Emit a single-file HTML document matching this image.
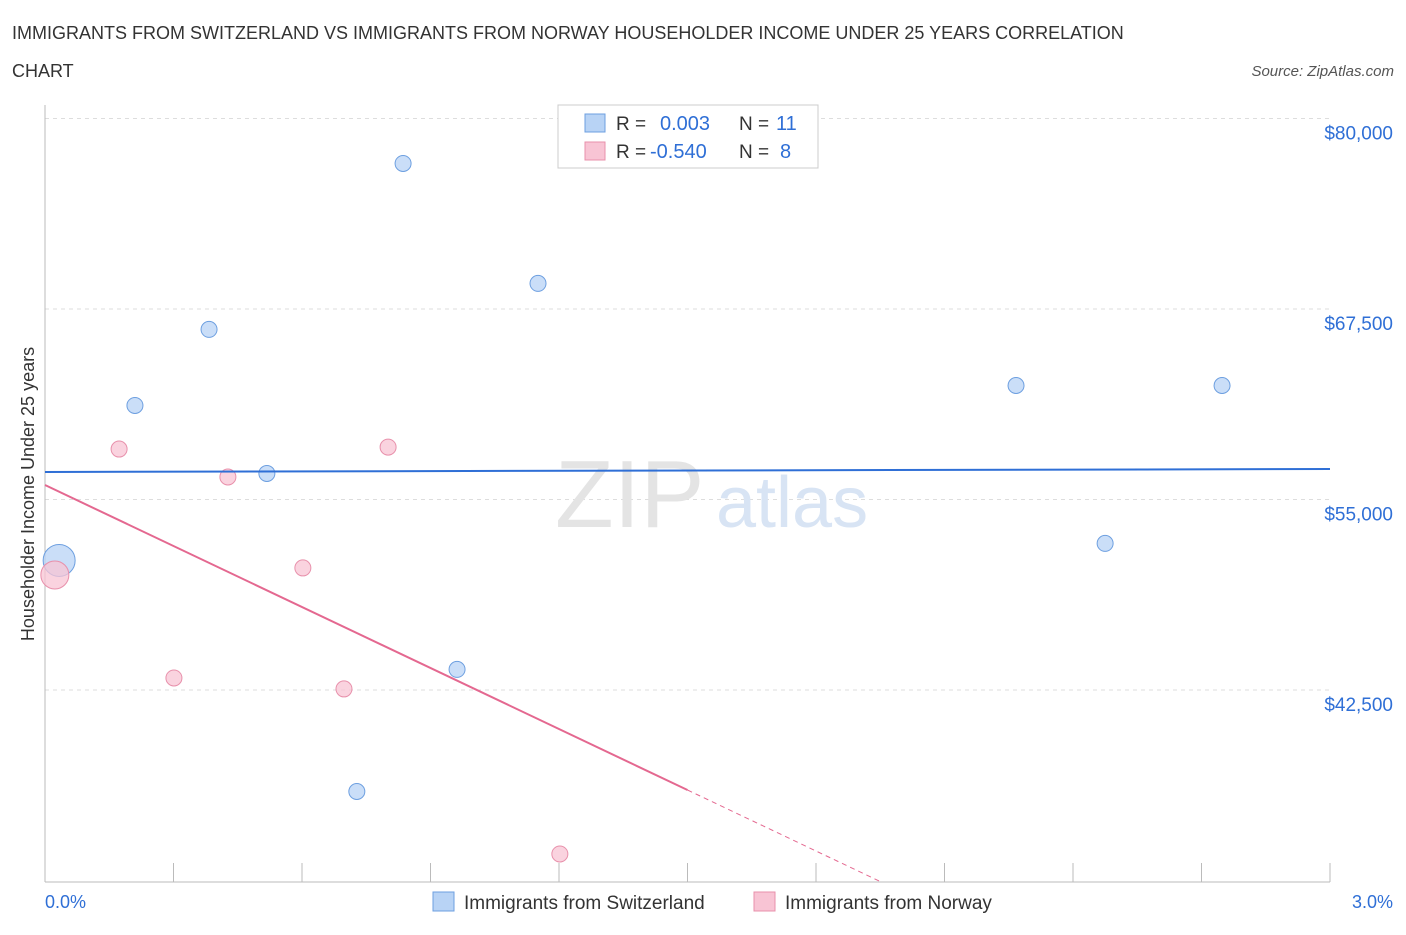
<!DOCTYPE html>
<html><head><meta charset="utf-8"><style>
body{margin:0;background:#fff;font-family:"Liberation Sans",sans-serif;}
svg text{font-family:"Liberation Sans",sans-serif;}
</style></head><body>
<svg width="1406" height="930" viewBox="0 0 1406 930">
<text x="12" y="39" font-size="18" fill="#333">IMMIGRANTS FROM SWITZERLAND VS IMMIGRANTS FROM NORWAY HOUSEHOLDER INCOME UNDER 25 YEARS CORRELATION</text>
<text x="12" y="77" font-size="18" fill="#333">CHART</text>
<text x="1394" y="76" font-size="15" fill="#555" font-style="italic" text-anchor="end">Source: ZipAtlas.com</text>
<g id="grid"></g>
<text x="555" y="527" font-size="96" fill="#e4e4e4" font-family="Liberation Serif">ZIP</text>
<text x="716" y="527" font-size="72" fill="#d8e4f4">atlas</text>
<g id="marks"></g>
<text transform="translate(34,494) rotate(-90)" font-size="18" fill="#333" text-anchor="middle">Householder Income Under 25 years</text>
<text x="45" y="908" font-size="18" fill="#2f6fd6">0.0%</text>
<text x="1393" y="908" font-size="18" fill="#2f6fd6" text-anchor="end">3.0%</text>
<g>
<rect x="558" y="105" width="260" height="63" fill="#fff" stroke="#ccc"/>
<rect x="585" y="114" width="20" height="18" fill="#b8d3f5" stroke="#6d9fe0"/>
<text x="616" y="130" font-size="19" fill="#333">R =</text><text x="660" y="130" font-size="20" fill="#2f6fd6">0.003</text>
<text x="739" y="130" font-size="19" fill="#333">N =</text><text x="776" y="130" font-size="20" fill="#2f6fd6">11</text>
<rect x="585" y="142" width="20" height="18" fill="#f8c4d4" stroke="#e890ab"/>
<text x="616" y="158" font-size="19" fill="#333">R =</text><text x="650" y="158" font-size="20" fill="#2f6fd6">-0.540</text>
<text x="739" y="158" font-size="19" fill="#333">N =</text><text x="780" y="158" font-size="20" fill="#2f6fd6">8</text>
</g>
<g>
<rect x="433" y="892" width="21" height="19" fill="#b8d3f5" stroke="#6d9fe0"/>
<text x="464" y="909" font-size="19" fill="#333">Immigrants from Switzerland</text>
<rect x="754" y="892" width="21" height="19" fill="#f8c4d4" stroke="#e890ab"/>
<text x="785" y="909" font-size="19" fill="#333">Immigrants from Norway</text>
</g>
</svg>
<script>
const yTicks=[42500,55000,67500,80000];
const yTickLabels=["$42,500","$55,000","$67,500","$80,000"];
const swissX=[0.836,1.151,0.383,0.210,0.518,0.033,2.267,2.748,2.475,0.962,0.728];
const swissY=[77050,69180,66160,61170,56710,51000,62480,62480,52120,43850,35840];
const swissR=[8,8,8,8,8,16,8,8,8,8,8];
const norX=[0.173,0.427,0.801,0.602,0.023,0.301,0.698,1.202];
const norY=[58310,56480,58440,50510,50050,43290,42570,31740];
const norR=[8,8,8,8,14,8,8,8];
const swissTrend=[56805,57000];
const norTrend=[55951,-13342];
const NS="http://www.w3.org/2000/svg";
const X=v=>45+v/3*1285;
const Y=v=>118.5+(80000-v)/12500*190.5;
const grid=document.getElementById('grid'),marks=document.getElementById('marks');
function mk(tag,at,parent){const e=document.createElementNS(NS,tag);for(const k in at)e.setAttribute(k,at[k]);parent.appendChild(e);return e;}
yTicks.forEach((t,i)=>{
 const l=mk('line',{x1:45,x2:1330,y1:Y(t),y2:Y(t),stroke:'#ddd','stroke-dasharray':'4,4'},grid);
 
 
 const tx=mk('text',{x:1393,y:Y(t)+21,'font-size':19,fill:'#2f6fd6','text-anchor':'end'},grid);
 tx.textContent=yTickLabels[i];
 
 
});
const ax=mk('line',{x1:45,x2:1330,y1:882,y2:882,stroke:'#bbb'},grid);


const ay=mk('line',{x1:45,x2:45,y1:105,y2:882,stroke:'#bbb'},grid);


for(let i=0;i<=10;i++){
 const t=mk('line',{x1:X(i*0.3),x2:X(i*0.3),y1:863,y2:882,stroke:'#bbb'},grid);
 
 
}
swissX.forEach((v,i)=>{
 const c=mk('circle',{cx:X(v),cy:Y(swissY[i]),r:swissR[i],fill:'#b8d3f5','fill-opacity':0.75,stroke:'#6d9fe0'},marks);
 
 
});
norX.forEach((v,i)=>{
 const c=mk('circle',{cx:X(v),cy:Y(norY[i]),r:norR[i],fill:'#f8c4d4','fill-opacity':0.75,stroke:'#e890ab'},marks);
 
 
});
const bl=mk('line',{x1:X(0),y1:Y(swissTrend[0]),x2:X(3),y2:Y(swissTrend[1]),stroke:'#2f6fd6','stroke-width':2},marks);


const nf=x=>norTrend[0]+norTrend[1]*x;
const pl=mk('line',{x1:X(0),y1:Y(nf(0)),x2:X(1.5),y2:Y(nf(1.5)),stroke:'#e46890','stroke-width':2},marks);


const xEnd=(29900-norTrend[0])/norTrend[1];
const pd=mk('line',{x1:X(1.5),y1:Y(nf(1.5)),x2:X(xEnd),y2:Y(nf(xEnd)),stroke:'#e46890','stroke-width':1,'stroke-dasharray':'5,4'},marks);


</script>
</body></html>
